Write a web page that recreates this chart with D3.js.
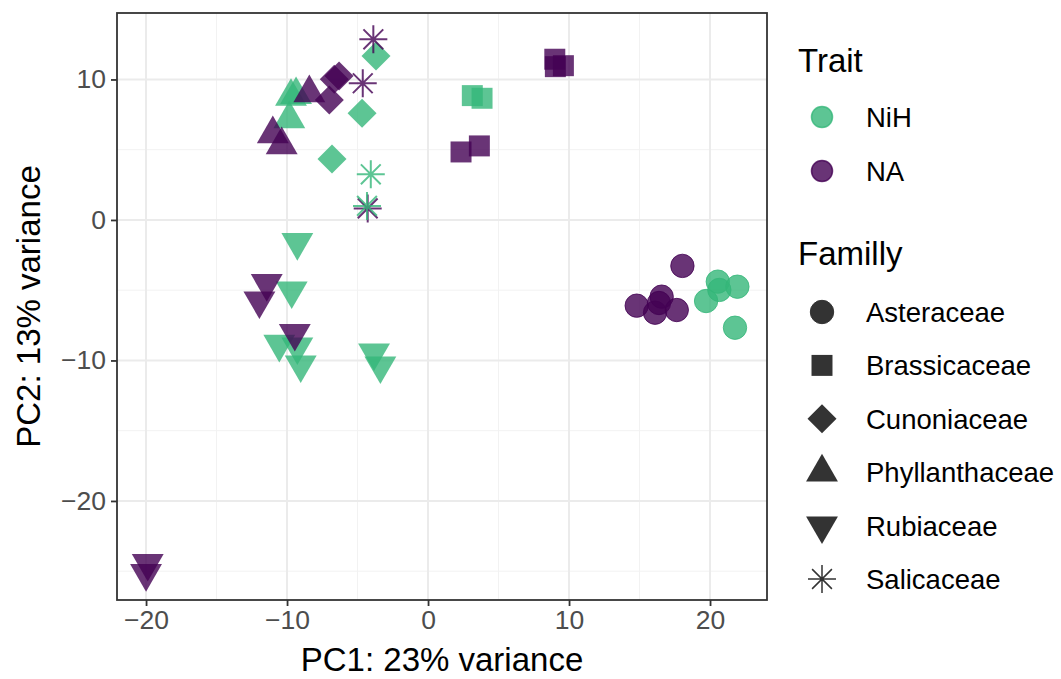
<!DOCTYPE html>
<html>
<head>
<meta charset="utf-8">
<script src="https://cdn.jsdelivr.net/npm/d3@7"></script>
<style>
  body { margin: 0; background: #fff; }
  svg text { font-family: "Liberation Sans", Arial, Helvetica, sans-serif; }
</style>
</head>
<body>
<div id="chart"></div>
<script>
const width = 1061,
    height = 679;

// PCA scores
const pc1 = [
    // Asteraceae
    14.80, 16.10, 16.57, 16.38, 17.64, 18.04, 20.55, 20.66, 19.72, 21.94, 21.77,
    // Brassicaceae
    8.99, 9.03, 9.60, 2.34, 3.64, 3.14, 3.83,
    // Cunoniaceae
    -3.69, -4.68, -6.81, -6.65, -6.31, -7.00,
    // Phyllanthaceae
    -9.72, -9.36, -9.84, -8.42, -11.01, -10.38,
    // Rubiaceae
    -9.27, -9.67, -10.55, -9.27, -9.03, -3.83, -3.38, -11.44, -11.96, -9.45, -19.88, -20.00,
    // Salicaceae
    -3.88, -4.63, -4.28, -4.06, -4.33
];
const pc2 = [
    -6.10, -6.60, -5.46, -5.91, -6.41, -3.27, -4.39, -4.98, -5.77, -4.75, -7.67,
    11.44, 10.91, 10.98, 4.84, 5.27, 8.85, 8.66,
    11.67, 7.59, 4.34, 10.01, 10.25, 8.54,
    8.78, 8.90, 7.19, 9.04, 6.12, 5.34,
    -1.59, -5.03, -8.83, -9.02, -10.30, -9.44, -10.37, -4.51, -5.74, -8.06, -24.43, -25.15,
    12.86, 9.73, 0.82, 3.25, 1.00
];
const trait = [
    "NA", "NA", "NA", "NA", "NA", "NA", "NiH", "NiH", "NiH", "NiH", "NiH",
    "NA", "NA", "NA", "NA", "NA", "NiH", "NiH",
    "NiH", "NiH", "NiH", "NA", "NA", "NA",
    "NiH", "NiH", "NiH", "NA", "NA", "NA",
    "NiH", "NiH", "NiH", "NiH", "NiH", "NiH", "NiH", "NA", "NA", "NA", "NA", "NA",
    "NA", "NA", "NA", "NiH", "NiH"
];
const family = [
    ...Array(11).fill("Asteraceae"),
    ...Array(7).fill("Brassicaceae"),
    ...Array(6).fill("Cunoniaceae"),
    ...Array(6).fill("Phyllanthaceae"),
    ...Array(12).fill("Rubiaceae"),
    ...Array(5).fill("Salicaceae")
];

const traits = ["NiH", "NA"];
const families = ["Asteraceae", "Brassicaceae", "Cunoniaceae", "Phyllanthaceae", "Rubiaceae", "Salicaceae"];
const xTicks = [-20, -10, 0, 10, 20],
    xMinor = [-15, -5, 5, 15],
    yTicks = [-20, -10, 0, 10],
    yMinor = [-25, -15, -5, 5];

const points = pc1.map((d, i) => ({ x: d, y: pc2[i], trait: trait[i], family: family[i] }));

const panel = { left: 117, right: 767, top: 13, bottom: 600 };

const svg = d3.select('#chart').append('svg')
    .attr('width', width)
    .attr('height', height);

const x = d3.scaleLinear().domain([-22.06, 24.04]).range([panel.left, panel.right]);
const y = d3.scaleLinear().domain([-27.05, 14.73]).range([panel.bottom, panel.top]);

const color = d3.scaleOrdinal().domain(traits).range(["#35B779", "#440154"]);

// shape for each family, built around the origin
function shapePath(fam) {
    if (fam === "Asteraceae") return d3.symbol(d3.symbolCircle, 430)();
    if (fam === "Brassicaceae") return d3.symbol(d3.symbolSquare, 440)();
    if (fam === "Cunoniaceae") return d3.symbol(d3.symbolSquare, 420)();
    if (fam === "Phyllanthaceae" || fam === "Rubiaceae") return d3.symbol(d3.symbolTriangle, 440)();
    // asterisk: plus + cross
    const r = 14, q = r * Math.SQRT1_2;
    return `M${-r},0L${r},0M0,${-r}L0,${r}M${-q},${-q}L${q},${q}M${-q},${q}L${q},${-q}`;
}
function shapeRotate(fam) {
    if (fam === "Cunoniaceae") return 45;
    if (fam === "Rubiaceae") return 180;
    return 0;
}

// panel background and grid
svg.append("rect")
    .attr("x", panel.left).attr("y", panel.top)
    .attr("width", panel.right - panel.left).attr("height", panel.bottom - panel.top)
    .attr("fill", "white");

const grid = svg.append("g");
grid.selectAll(".xminor").data(xMinor).enter().append("line")
    .attr("x1", d => x(d)).attr("x2", d => x(d))
    .attr("y1", panel.top).attr("y2", panel.bottom)
    .attr("stroke", "#f2f2f2").attr("stroke-width", 1);
grid.selectAll(".yminor").data(yMinor).enter().append("line")
    .attr("y1", d => y(d)).attr("y2", d => y(d))
    .attr("x1", panel.left).attr("x2", panel.right)
    .attr("stroke", "#f2f2f2").attr("stroke-width", 1);
grid.selectAll(".xmajor").data(xTicks).enter().append("line")
    .attr("x1", d => x(d)).attr("x2", d => x(d))
    .attr("y1", panel.top).attr("y2", panel.bottom)
    .attr("stroke", "#ebebeb").attr("stroke-width", 2);
grid.selectAll(".ymajor").data(yTicks).enter().append("line")
    .attr("y1", d => y(d)).attr("y2", d => y(d))
    .attr("x1", panel.left).attr("x2", panel.right)
    .attr("stroke", "#ebebeb").attr("stroke-width", 2);

// points
svg.append("g")
    .selectAll("path")
    .data(points)
    .enter()
    .append("path")
    .attr("d", d => shapePath(d.family))
    .attr("transform", d => `translate(${x(d.x)},${y(d.y)}) rotate(${shapeRotate(d.family)})`)
    .attr("fill", d => d.family === "Salicaceae" ? "none" : color(d.trait))
    .attr("fill-opacity", 0.8)
    .attr("stroke", d => color(d.trait))
    .attr("stroke-opacity", 0.8)
    .attr("stroke-width", d => d.family === "Salicaceae" ? 2 : (d.family === "Asteraceae" ? 1 : 0));

// panel border
svg.append("rect")
    .attr("x", panel.left).attr("y", panel.top)
    .attr("width", panel.right - panel.left).attr("height", panel.bottom - panel.top)
    .attr("fill", "none").attr("stroke", "#333333").attr("stroke-width", 1.8);

const fmt = d => d < 0 ? "\u2212" + Math.abs(d) : String(d);

const xAxis = svg.append("g")
    .attr("transform", `translate(0,${panel.bottom})`)
    .call(d3.axisBottom(x).tickValues(xTicks).tickSize(6).tickPadding(4).tickFormat(fmt));
const yAxis = svg.append("g")
    .attr("transform", `translate(${panel.left},0)`)
    .call(d3.axisLeft(y).tickValues(yTicks).tickSize(6).tickPadding(5).tickFormat(fmt));

[xAxis, yAxis].forEach(a => {
    a.select(".domain").remove();
    a.selectAll(".tick line").attr("stroke", "#333333").attr("stroke-width", 1.8);
    a.selectAll(".tick text")
        .attr("fill", "#4d4d4d")
        .style("font-size", "26.5px")
        .style("font-family", "'Liberation Sans', Arial, sans-serif");
});

// axis titles
svg.append("text")
    .attr("x", (panel.left + panel.right) / 2)
    .attr("y", 671)
    .attr("text-anchor", "middle")
    .style("font-size", "33px")
    .text("PC1: 23% variance");

svg.append("text")
    .attr("transform", `translate(40,${(panel.top + panel.bottom) / 2}) rotate(-90)`)
    .attr("text-anchor", "middle")
    .style("font-size", "33px")
    .text("PC2: 13% variance");

// legends
const legend = svg.append("g");
legend.append("text").attr("x", 798).attr("y", 72).style("font-size", "33px").text("Trait");
legend.selectAll(".trait").data(traits).enter().append("g")
    .attr("transform", (d, i) => `translate(822,${117 + i * 54})`)
    .each(function (d) {
        const g = d3.select(this);
        g.append("circle").attr("r", 10.5)
            .attr("fill", color(d)).attr("fill-opacity", 0.8)
            .attr("stroke", color(d)).attr("stroke-opacity", 0.8).attr("stroke-width", 1.5);
        g.append("text").attr("x", 44).attr("y", 10).style("font-size", "27.5px").text(d);
    });

legend.append("text").attr("x", 798).attr("y", 265).style("font-size", "33px").text("Familly");
legend.selectAll(".fam").data(families).enter().append("g")
    .attr("transform", (d, i) => `translate(822,${312 + i * 53.4})`)
    .each(function (d) {
        const g = d3.select(this);
        g.append("path")
            .attr("d", shapePath(d))
            .attr("transform", `rotate(${shapeRotate(d)})`)
            .attr("fill", d === "Salicaceae" ? "none" : "#333333")
            .attr("stroke", "#333333")
            .attr("stroke-width", d === "Salicaceae" ? 1.5 : (d === "Asteraceae" ? 1 : 0));
        g.append("text").attr("x", 44).attr("y", 10).style("font-size", "27.5px").text(d);
    });
</script>
</body>
</html>
